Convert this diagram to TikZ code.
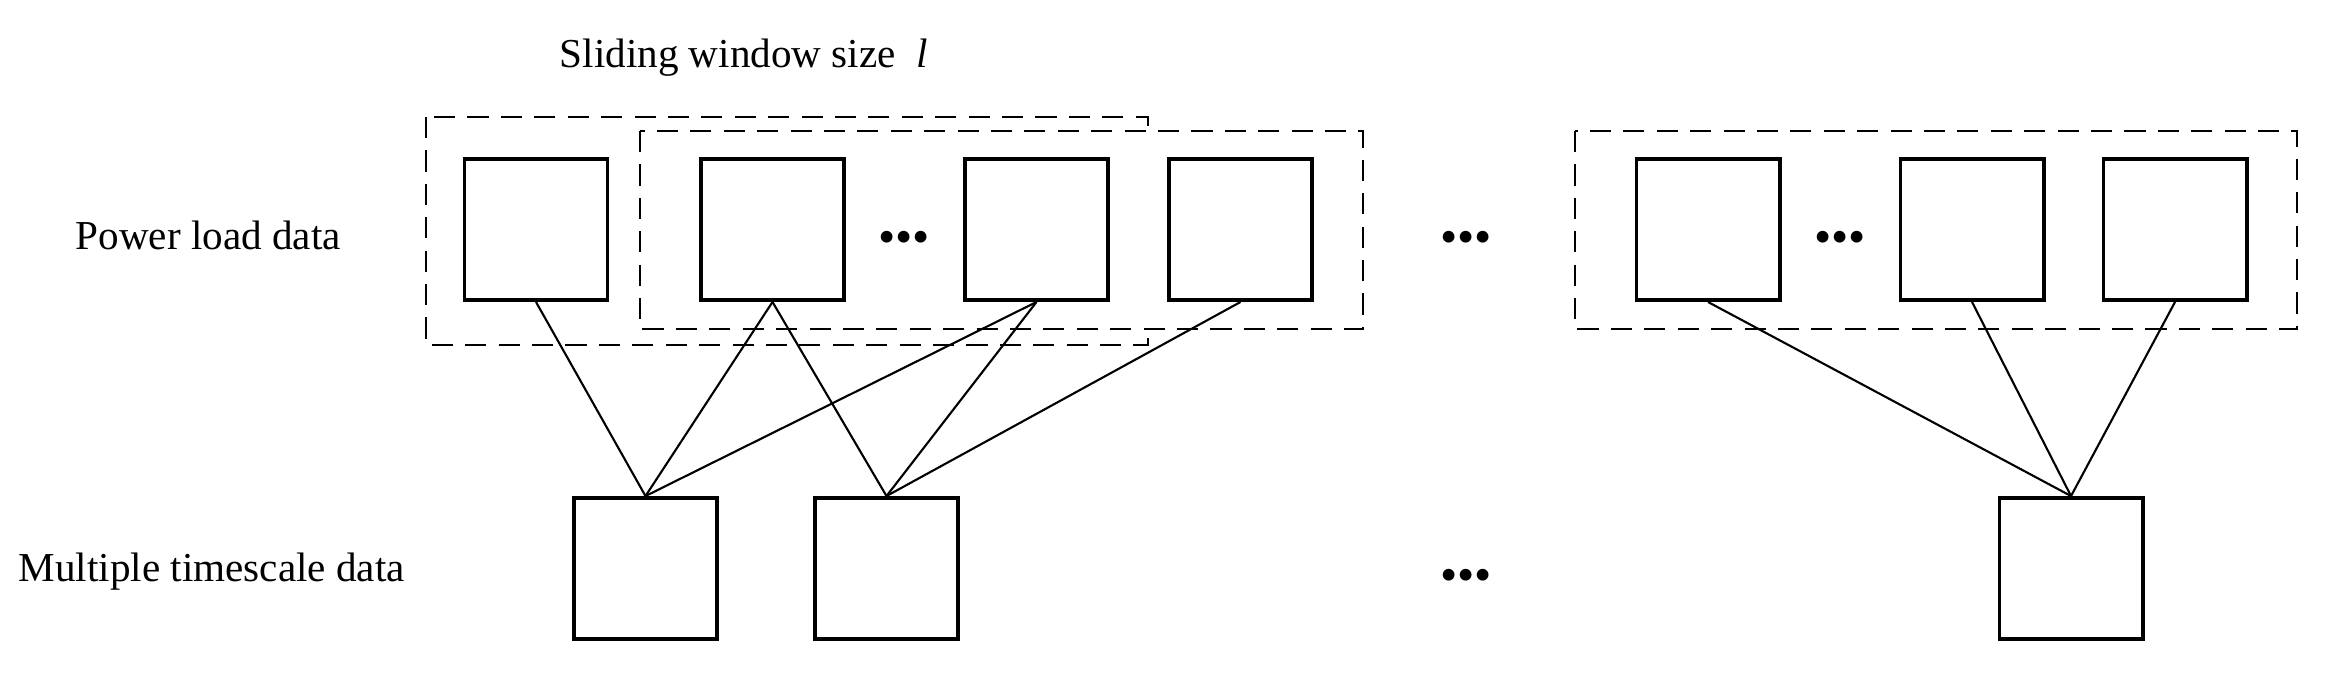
\documentclass[tikz,border=0pt]{standalone}
\usepackage{fontspec}
\setmainfont{Liberation Serif}
\begin{document}
\begin{tikzpicture}[x=0.01cm,y=-0.01cm,
  box/.style={draw,line width=1.1pt,minimum width=1.43cm,minimum height=1.41cm,inner sep=0pt},
  win/.style={draw,line width=0.8pt,dash pattern=on 6pt off 3.5pt},
  con/.style={line width=0.6pt},
  lab/.style={font=\fontsize{11.7}{14}\selectfont,inner sep=0pt},
  dots/.style={font=\fontsize{14}{16}\selectfont,inner sep=0pt}]
\useasboundingbox (0,0) rectangle (2328,672);
\draw[win] (426,117) rectangle (1148,345);
\draw[win,fill=white] (640,131) rectangle (1363,329);
\draw[win] (1575,131) rectangle (2297,329);
\node[box] (a1) at (536,229.5) {};
\node[box] (a2) at (772.5,229.5) {};
\node[box] (a3) at (1036.5,229.5) {};
\node[box] (a4) at (1240.5,229.5) {};
\node[box] (a5) at (1708,229.5) {};
\node[box] (a6) at (1972,229.5) {};
\node[box] (a7) at (2175,229.5) {};
\node[box] (b1) at (645.5,568.5) {};
\node[box] (b2) at (886.5,568.5) {};
\node[box] (b3) at (2071,568.5) {};
\node[dots] (d1) at (904,242) {•••};
\node[dots] (d2) at (1466,242) {•••};
\node[dots] (d3) at (1840,242) {•••};
\node[dots] (d4) at (1466,580) {•••};
\node[lab,anchor=west] (t) at (559,58) {Sliding window size \ \textit{l}};
\node[lab,anchor=west] (p) at (75,235) {Power load data};
\node[lab,anchor=west] (m) at (18,572) {Multiple timescale data};
\draw[con] (a1.south) -- (b1.north);
\draw[con] (a2.south) -- (b1.north);
\draw[con] (a2.south) -- (b2.north);
\draw[con] (a3.south) -- (b1.north);
\draw[con] (a3.south) -- (b2.north);
\draw[con] (a4.south) -- (b2.north);
\draw[con] (a5.south) -- (b3.north);
\draw[con] (a6.south) -- (b3.north);
\draw[con] (a7.south) -- (b3.north);
\end{tikzpicture}
\end{document}
